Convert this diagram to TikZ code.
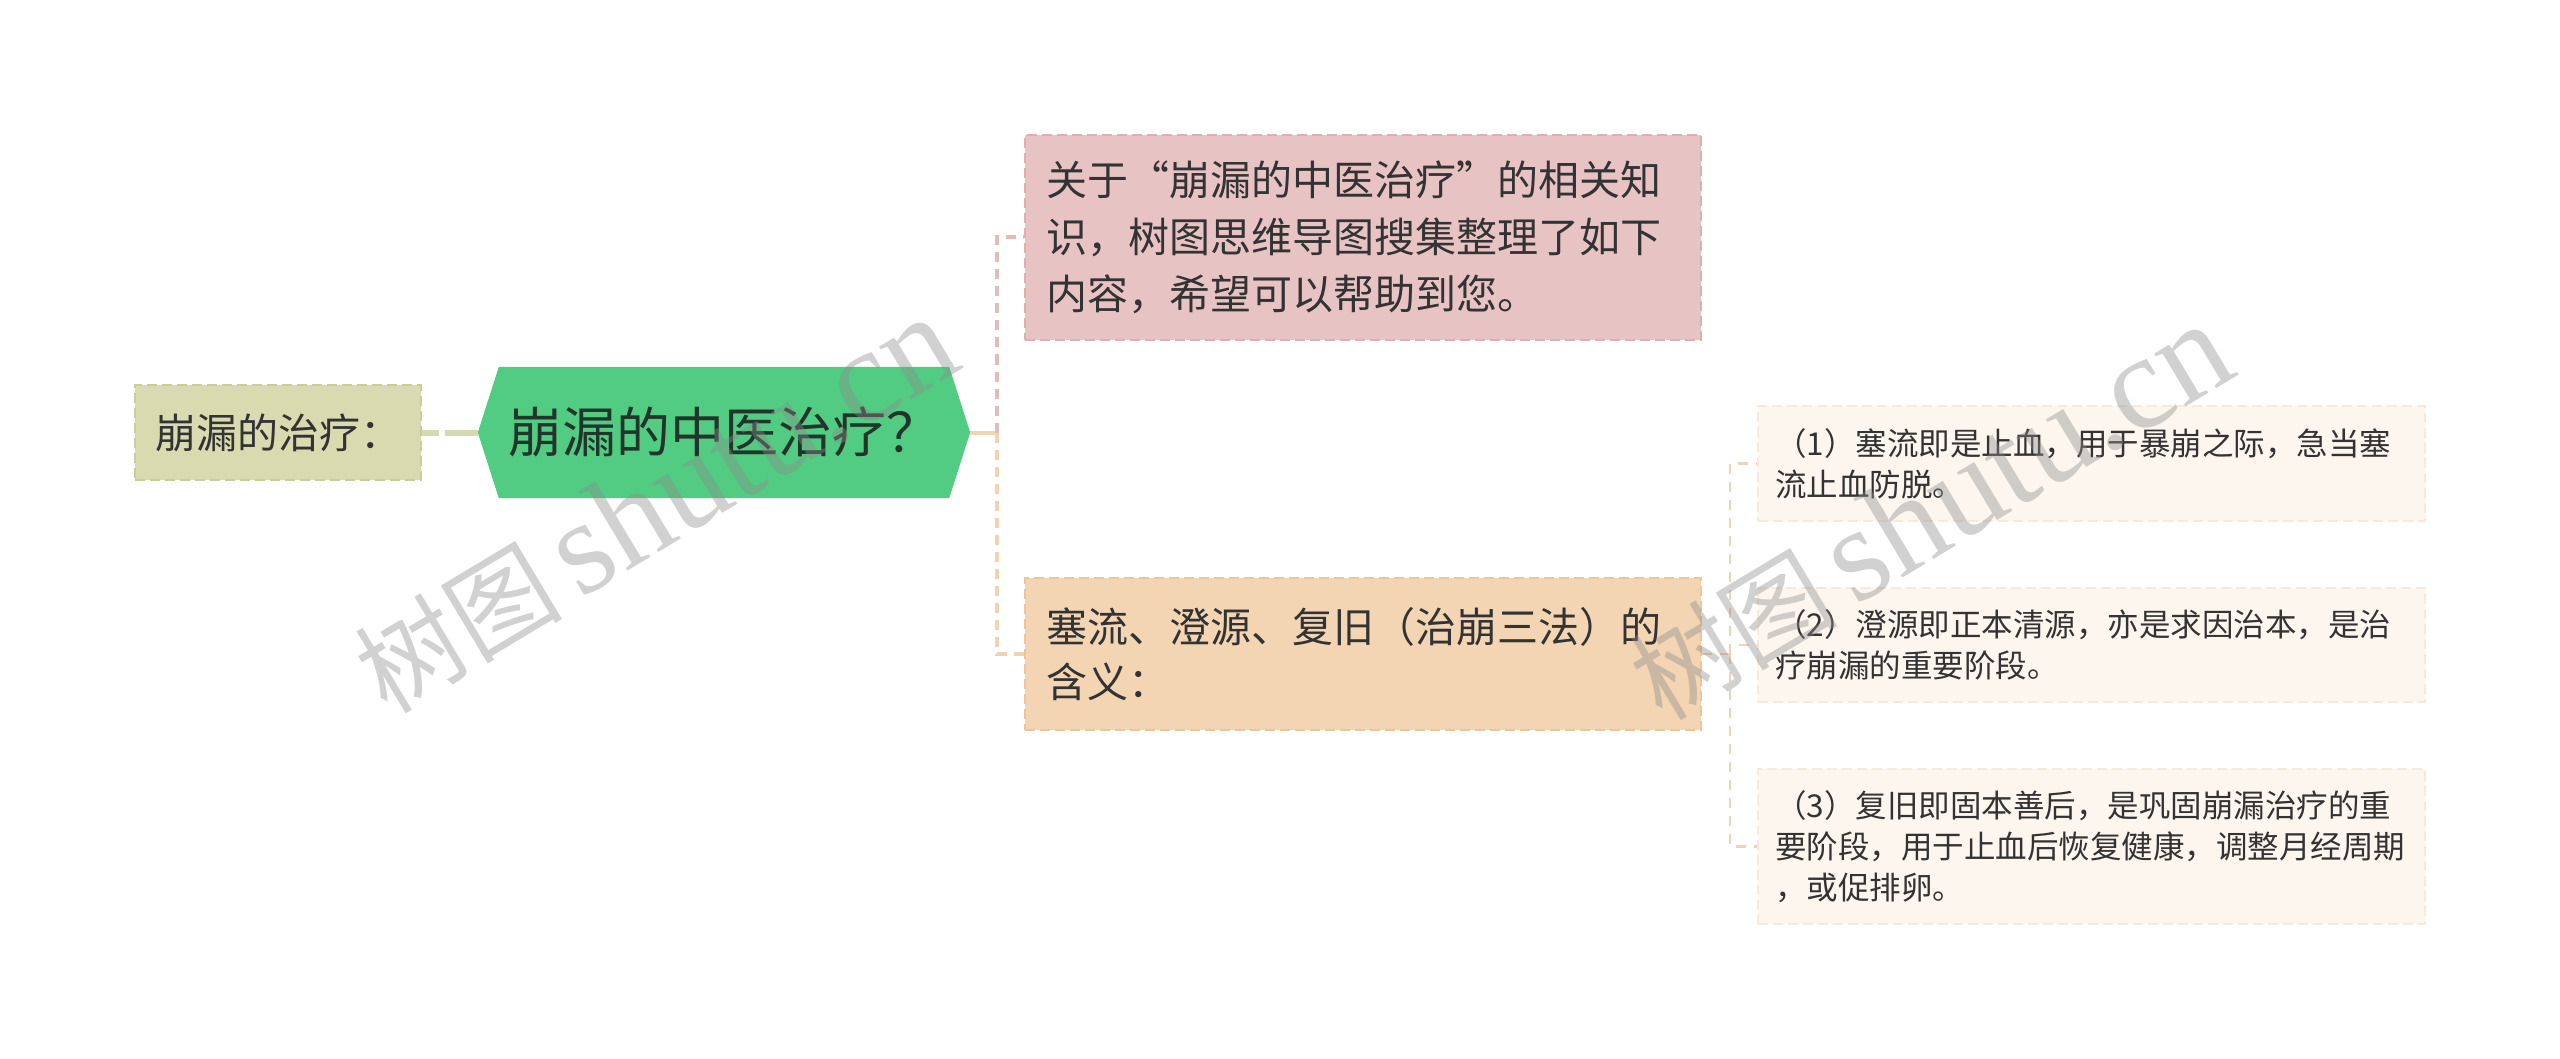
\documentclass[tikz,border=0pt]{standalone}
\usepackage{fontspec}
\setmainfont{Noto Sans CJK SC}
\newfontfamily\wmlatin{Liberation Serif}
\usetikzlibrary{backgrounds}
\definecolor{txt}{HTML}{333333}
\definecolor{oliveF}{HTML}{D8DBAF}
\definecolor{oliveB}{HTML}{C9CD9C}
\definecolor{oliveL}{HTML}{D6DAB0}
\definecolor{greenF}{HTML}{52CC83}
\definecolor{greenT}{HTML}{22352A}
\definecolor{pinkF}{HTML}{E8C3C3}
\definecolor{pinkB}{HTML}{DDB0B0}
\definecolor{pinkL}{HTML}{E0BDBD}
\definecolor{tanF}{HTML}{F3D5B3}
\definecolor{tanB}{HTML}{EAC59D}
\definecolor{tanL}{HTML}{F0D3B0}
\definecolor{creamF}{HTML}{FDF6EE}
\definecolor{creamB}{HTML}{F5EADC}
\definecolor{wm}{HTML}{8C8C8C}
\tikzset{
  boxbase/.style={rectangle, inner ysep=0pt, align=left, text=txt},
  leftbox/.style={boxbase, align=center, fill=oliveF, draw=oliveB, line width=2pt,
    dash pattern=on 10pt off 5pt, minimum width=286pt, minimum height=95pt,
    font=\fontsize{41}{50}\selectfont},
  hexnode/.style={rectangle, inner sep=0pt, minimum width=492pt, minimum height=131pt,
    text=greenT, font=\fontsize{54}{60}\selectfont},
  pinkbox/.style={boxbase, fill=pinkF, draw=pinkB, line width=2pt,
    dash pattern=on 10pt off 5pt, minimum width=676pt, minimum height=205pt,
    inner xsep=21pt, text width=634pt, font=\fontsize{41}{57}\selectfont},
  tanbox/.style={boxbase, fill=tanF, draw=tanB, line width=2pt,
    dash pattern=on 10pt off 5pt, minimum width=676pt, minimum height=152pt,
    inner xsep=21pt, text width=634pt, font=\fontsize{41}{55}\selectfont},
  creambox/.style={boxbase, fill=creamF, draw=creamB, line width=1.5pt,
    dash pattern=on 10pt off 5pt, minimum width=667pt,
    inner xsep=17pt, text width=633pt, font=\fontsize{31.5}{41}\selectfont},
  oliveconn/.style={draw=oliveL, line width=6pt, dash pattern=on 17pt off 6pt on 200pt off 1pt},
  pinkconn/.style={draw=pinkL, line width=4pt, dash pattern=on 10pt off 7pt},
  tanconn/.style={draw=tanL, line width=4pt, dash pattern=on 10pt off 7pt},
  tansolid/.style={draw=tanL, line width=4pt},
  tanthin/.style={draw=tanL, line width=2.5pt, dash pattern=on 10pt off 8pt},
  hexfill/.style={fill=greenF},
  watermark/.style={rotate=31, text=wm, text opacity=0.4, inner sep=0pt}
}
\begin{document}
\begin{tikzpicture}[x=1pt, y=-1pt]
\useasboundingbox (0,0) rectangle (2560,1059);

% nodes
\node[leftbox] (left) at (278,432.5) {崩漏的治疗：};
\node[hexnode] (hex) at (724,432.5) {崩漏的中医治疗？};
\begin{scope}[on background layer]
  \path[hexfill] (hex.west) -- ([xshift=21pt]hex.north west) -- ([xshift=-21pt]hex.north east)
    -- (hex.east) -- ([xshift=-21pt]hex.south east) -- ([xshift=21pt]hex.south west) -- cycle;
\end{scope}
\node[pinkbox] (pink) at (1363,237.5) {关于“崩漏的中医治疗”的相关知\\识，树图思维导图搜集整理了如下\\内容，希望可以帮助到您。};
\node[tanbox] (orange) at (1363,654) {塞流、澄源、复旧（治崩三法）的\\含义：};
\node[creambox, minimum height=115pt] (r1) at (2091.5,463.5) {（1）塞流即是止血，用于暴崩之际，急当塞\\流止血防脱。};
\node[creambox, minimum height=114pt] (r2) at (2091.5,645) {（2）澄源即正本清源，亦是求因治本，是治\\疗崩漏的重要阶段。};
\node[creambox, minimum height=155pt] (r3) at (2091.5,846.5) {（3）复旧即固本善后，是巩固崩漏治疗的重\\要阶段，用于止血后恢复健康，调整月经周期\\，或促排卵。};

% connectors
\draw[oliveconn] (left.east) -- (hex.west);
\coordinate (jL) at (997,432.5);
\draw[tansolid] (hex.east) -- (jL);
\draw[pinkconn] (jL) |- (pink.west);
\draw[tanconn] (jL) |- (orange.west);
\coordinate (jR) at (1730,654);
\draw[tanthin] (orange.east) -- (jR);
\draw[tanthin] (jR) |- (r1.west);
\draw[tanthin] (jR) |- (r2.west);
\draw[tanthin] (jR) |- (r3.west);

% watermarks
\node[watermark] (wm1) at (655,505) {\fontsize{104}{110}\selectfont 树图\,{\wmlatin\fontsize{134}{140}\selectfont shutu.cn}};
\node[watermark] (wm2) at (1930,512) {\fontsize{104}{110}\selectfont 树图\,{\wmlatin\fontsize{134}{140}\selectfont shutu.cn}};
\end{tikzpicture}
\end{document}
